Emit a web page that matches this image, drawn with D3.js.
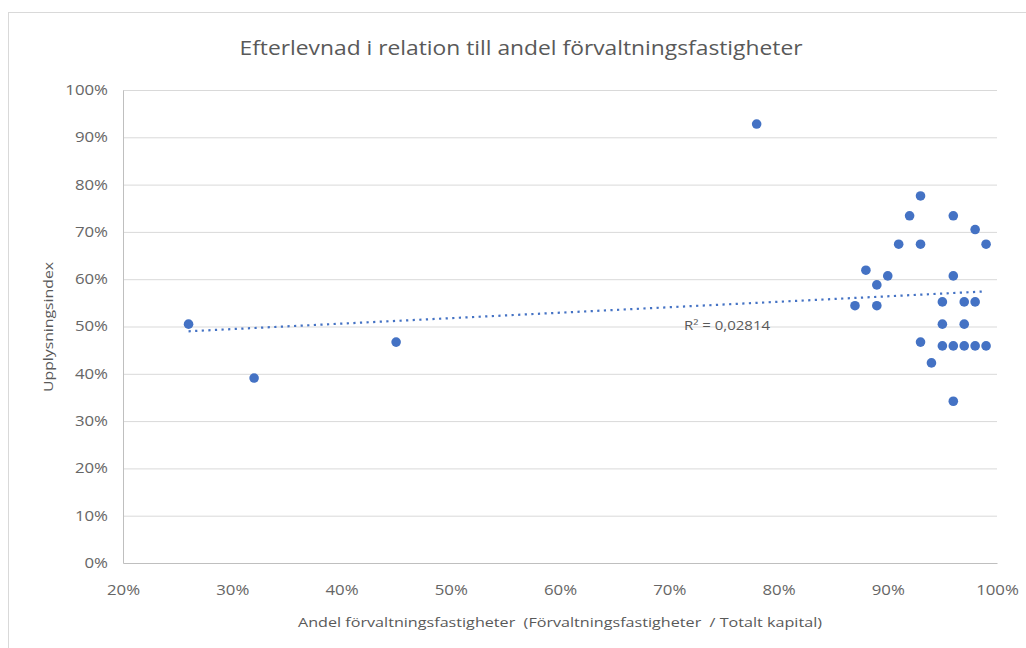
<!DOCTYPE html>
<html><head><meta charset="utf-8">
<script src="https://cdn.jsdelivr.net/npm/d3@7"></script>
<style>body{margin:0;background:#fff;} svg{display:block;font-family:"Open Sans",sans-serif;}</style>
</head><body>
<svg id="c" width="1026" height="648"></svg>
<script>
const title = "Efterlevnad i relation till andel förvaltningsfastigheter";
const xLabel = "Andel förvaltningsfastigheter  (Förvaltningsfastigheter  / Totalt kapital)";
const yLabel = "Upplysningsindex";
const xTicks = [0.2,0.3,0.4,0.5,0.6,0.7,0.8,0.9,1.0];
const yTicks = [0,0.1,0.2,0.3,0.4,0.5,0.6,0.7,0.8,0.9,1.0];
const xValues = [0.26,0.32,0.45,0.78,0.93,0.92,0.96,0.98,0.91,0.93,0.99,0.88,0.90,0.96,0.89,0.87,0.89,0.95,0.97,0.98,0.95,0.97,0.93,0.95,0.96,0.97,0.98,0.99,0.94,0.96];
const yValues = [0.505,0.391,0.467,0.928,0.776,0.734,0.734,0.705,0.674,0.674,0.674,0.619,0.607,0.607,0.588,0.544,0.544,0.552,0.552,0.552,0.505,0.505,0.467,0.459,0.459,0.459,0.459,0.459,0.423,0.342];
const r2Text = "R² = 0,02814";

const svg = d3.select("#c");
const L=123, R=997, T=90, B=563;
const x = d3.scaleLinear().domain([0.2,1.0]).range([L,R]);
const y = d3.scaleLinear().domain([0,1.0]).range([B,T]);
const grey = "#595959";
const tickGrey = "#666666";

function stretch(sel, factor){
  sel.each(function(){
    const w = this.getComputedTextLength();
    d3.select(this).attr("textLength", w*factor).attr("lengthAdjust","spacingAndGlyphs");
  });
}

svg.append("rect").attr("x",8.5).attr("y",12.5).attr("width",1030).attr("height",650)
  .attr("fill","none").attr("stroke","#d9d9d9");

// gridlines
svg.append("g").selectAll("line").data(yTicks.filter(d=>d>0)).join("line")
  .attr("x1",L).attr("x2",R).attr("y1",d=>y(d)+0.5).attr("y2",d=>y(d)+0.5)
  .attr("stroke","#d9d9d9").attr("stroke-width",1);

const fmt = d3.format(".0%");
// y axis
const ya = svg.append("g").attr("transform",`translate(${L},0)`)
  .call(d3.axisLeft(y).tickValues(yTicks).tickFormat(fmt).tickSize(0).tickPadding(15));
ya.select(".domain").attr("stroke","#bfbfbf");
ya.selectAll("text").attr("fill",tickGrey).style("font-size","14px").style("font-family","Open Sans");
stretch(ya.selectAll("text"), 1.2);
// x axis
const xa = svg.append("g").attr("transform",`translate(0,${B})`)
  .call(d3.axisBottom(x).tickValues(xTicks).tickFormat(fmt).tickSize(0).tickPadding(22));
xa.select(".domain").attr("stroke","#bfbfbf");
xa.selectAll("text").attr("fill",tickGrey).style("font-size","14px").style("font-family","Open Sans");
stretch(xa.selectAll("text"), 1.2);

// trendline (least squares)
const n = xValues.length;
const mx = d3.mean(xValues), my = d3.mean(yValues);
let sxy=0, sxx=0;
for (let i=0;i<n;i++){ sxy+=(xValues[i]-mx)*(yValues[i]-my); sxx+=(xValues[i]-mx)**2; }
const slope = sxy/sxx, icpt = my - slope*mx;
const x0 = d3.min(xValues), x1 = d3.max(xValues);
svg.append("line").attr("x1",x(x0)).attr("x2",x(x1))
  .attr("y1",y(icpt+slope*x0)+2).attr("y2",y(icpt+slope*x1)+2)
  .attr("stroke","#4472c4").attr("stroke-width",2.2).attr("stroke-dasharray","2.2,4.4");

// points
svg.append("g").selectAll("circle").data(xValues.map((v,i)=>[v,yValues[i]])).join("circle")
  .attr("cx",d=>x(d[0])).attr("cy",d=>y(d[1])).attr("r",4.8).attr("fill","#4472c4");

const r2 = svg.append("text").attr("x",684).attr("y",330).attr("fill",grey)
  .style("font-size","12.5px").text(r2Text);
r2.attr("textLength",86).attr("lengthAdjust","spacingAndGlyphs");

svg.append("text").attr("x",521).attr("y",55).attr("text-anchor","middle").attr("fill",grey)
  .style("font-size","19.5px").attr("textLength",563).attr("lengthAdjust","spacingAndGlyphs").text(title);
svg.append("text").attr("x",560).attr("y",627).attr("text-anchor","middle").attr("fill",grey)
  .attr("xml:space","preserve").style("white-space","pre")
  .style("font-size","13.5px").attr("textLength",524).attr("lengthAdjust","spacingAndGlyphs").text(xLabel);
svg.append("text").attr("transform","translate(53,327) rotate(-90)").attr("text-anchor","middle").attr("fill",grey)
  .style("font-size","13px").attr("textLength",130).attr("lengthAdjust","spacingAndGlyphs").text(yLabel);
</script>
</body></html>
